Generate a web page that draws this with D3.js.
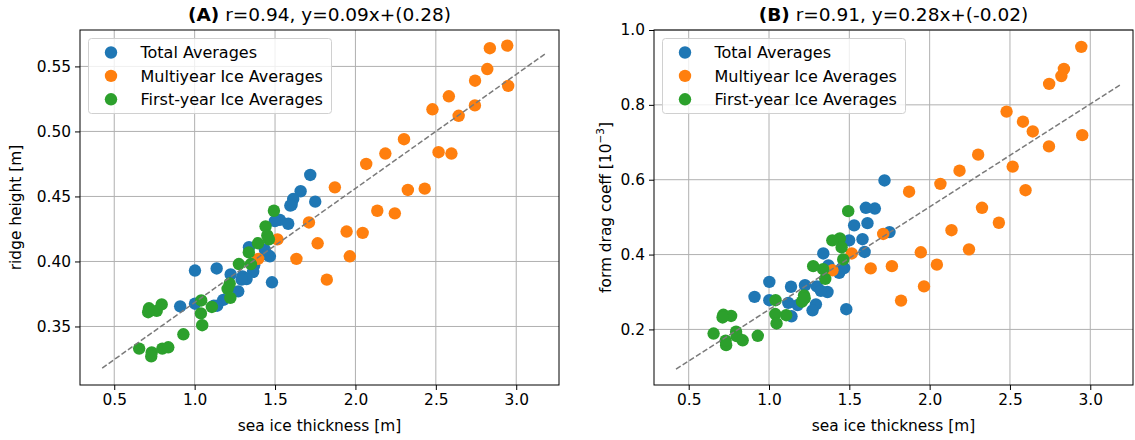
<!DOCTYPE html>
<html>
<head>
<meta charset="utf-8">
<script src="https://cdn.jsdelivr.net/npm/d3@7"></script>
<style>
  body { margin: 0; background: #fff; }
  text { font-family: "DejaVu Sans", sans-serif; fill: #000; }
</style>
</head>
<body>
<svg id="chart" width="1135" height="440"></svg>
<script>
// --- data ---
const seriesNames = ['Total Averages', 'Multiyear Ice Averages', 'First-year Ice Averages'];
const seriesColors = ['#1f77b4', '#ff7f0e', '#2ca02c'];

// total averages
const thickTotal = [1.719, 1.659, 1.613, 1.603, 1.595, 1.750, 1.530, 1.499, 1.582, 1.338,
                    1.437, 1.468, 1.452, 1.370, 1.002, 1.137, 1.224, 1.298, 1.364, 1.323,
                    1.292, 1.481, 1.271, 1.178, 1.140, 1.120, 0.910, 1.002];
const ridgeTotal = [0.4665, 0.454, 0.448, 0.4436, 0.443, 0.446, 0.432, 0.431, 0.429, 0.411,
                    0.409, 0.404, 0.405, 0.397, 0.393, 0.3946, 0.390, 0.3885, 0.392, 0.3865,
                    0.386, 0.384, 0.377, 0.3705, 0.366, 0.366, 0.3655, 0.3675];
const dragTotal = [0.598, 0.523, 0.484, 0.525, 0.407, 0.460, 0.478, 0.438, 0.441, 0.403,
                   0.351, 0.364, 0.363, 0.371, 0.327, 0.314, 0.318, 0.315, 0.300, 0.303,
                   0.267, 0.254, 0.251, 0.265, 0.235, 0.271, 0.287, 0.278];

// multiyear ice
const thickMY = [1.395, 1.515, 1.633, 1.711, 1.765, 1.822, 1.872, 1.945, 1.965, 2.045,
                 2.067, 2.136, 2.186, 2.245, 2.302, 2.326, 2.431, 2.479, 2.517, 2.581,
                 2.597, 2.642, 2.744, 2.743, 2.820, 2.836, 2.944, 2.950];
const ridgeMY = [0.402, 0.417, 0.402, 0.430, 0.414, 0.386, 0.457, 0.423, 0.404, 0.422,
                 0.475, 0.439, 0.483, 0.437, 0.494, 0.455, 0.456, 0.517, 0.484, 0.527,
                 0.483, 0.512, 0.539, 0.520, 0.548, 0.564, 0.566, 0.535];
const dragMY = [0.358, 0.403, 0.363, 0.455, 0.369, 0.277, 0.568, 0.406, 0.315, 0.373,
                0.589, 0.465, 0.624, 0.414, 0.667, 0.525, 0.485, 0.782, 0.635, 0.755,
                0.572, 0.729, 0.856, 0.689, 0.877, 0.896, 0.955, 0.719];

// first-year ice
const thickFY = [1.493, 1.441, 1.452, 1.462, 1.394, 1.337, 1.275, 1.350, 1.218, 1.205,
                 1.222, 1.107, 1.041, 1.039, 1.047, 0.930, 0.716, 0.764, 0.795, 0.711,
                 0.655, 0.733, 0.730, 0.799, 0.836];
const ridgeFY = [0.439, 0.427, 0.420, 0.417, 0.414, 0.407, 0.398, 0.398, 0.383, 0.379,
                 0.372, 0.365, 0.370, 0.360, 0.351, 0.344, 0.364, 0.362, 0.367, 0.361,
                 0.333, 0.330, 0.327, 0.333, 0.334];
const dragFY = [0.516, 0.443, 0.419, 0.387, 0.438, 0.361, 0.369, 0.335, 0.291, 0.274,
                0.283, 0.238, 0.278, 0.241, 0.216, 0.183, 0.239, 0.236, 0.194, 0.232,
                0.189, 0.158, 0.170, 0.182, 0.171];

// regression lines (end points)
const fitXA = [0.425, 3.178], fitYA = [0.318, 0.5595];
const fitXB = [0.421, 3.185], fitYB = [0.094, 0.853];

// tick values
const xTicks = [0.5, 1.0, 1.5, 2.0, 2.5, 3.0];
const yTicksA = [0.35, 0.40, 0.45, 0.50, 0.55];
const yTicksB = [0.2, 0.4, 0.6, 0.8, 1.0];

const FONT = 15.4;
const svg = d3.select('#chart');
const zip = (xs, ys) => xs.map((x, i) => [x, ys[i]]);

function drawPanel(cfg) {
    const g = svg.append('g');
    const x = d3.scaleLinear().domain(cfg.xDomain).range([cfg.left, cfg.right]);
    const y = d3.scaleLinear().domain(cfg.yDomain).range([cfg.bottom, cfg.top]);

    // grid
    g.append('g').selectAll('line').data(cfg.xTicks).join('line')
        .attr('x1', d => x(d)).attr('x2', d => x(d))
        .attr('y1', cfg.top).attr('y2', cfg.bottom)
        .attr('stroke', '#b0b0b0').attr('stroke-width', 1);
    g.append('g').selectAll('line').data(cfg.yTicks).join('line')
        .attr('x1', cfg.left).attr('x2', cfg.right)
        .attr('y1', d => y(d)).attr('y2', d => y(d))
        .attr('stroke', '#b0b0b0').attr('stroke-width', 1);

    // points: total, multiyear, first-year (green drawn last)
    cfg.series.forEach((pts, i) => {
        g.append('g').selectAll('circle').data(pts).join('circle')
            .attr('cx', d => x(d[0])).attr('cy', d => y(d[1]))
            .attr('r', 6.2).attr('fill', seriesColors[i]);
    });

    // regression line
    g.append('path').datum(zip(cfg.fitX, cfg.fitY))
        .attr('d', d3.line().x(d => x(d[0])).y(d => y(d[1])))
        .attr('fill', 'none').attr('stroke', '#7a7a7a')
        .attr('stroke-width', 1.5).attr('stroke-dasharray', '5.5,2.4');

    // axes
    const xAxis = d3.axisBottom(x).tickValues(cfg.xTicks).tickFormat(d3.format('.1f'))
        .tickSize(5).tickPadding(4);
    const yAxis = d3.axisLeft(y).tickValues(cfg.yTicks).tickFormat(d3.format(cfg.yFormat))
        .tickSize(5).tickPadding(4);
    const gx = g.append('g').attr('transform', `translate(0,${cfg.bottom})`).call(xAxis);
    const gy = g.append('g').attr('transform', `translate(${cfg.left},0)`).call(yAxis);
    [gx, gy].forEach(a => {
        a.select('.domain').remove();
        a.selectAll('text').attr('font-size', FONT).attr('fill', '#000')
            .attr('font-family', '"DejaVu Sans", sans-serif');
        a.selectAll('line').attr('stroke', '#000');
    });

    // frame
    g.append('rect').attr('x', cfg.left).attr('y', cfg.top)
        .attr('width', cfg.right - cfg.left).attr('height', cfg.bottom - cfg.top)
        .attr('fill', 'none').attr('stroke', '#000').attr('stroke-width', 1);

    // labels
    g.append('text').attr('x', (cfg.left + cfg.right) / 2).attr('y', 431)
        .attr('text-anchor', 'middle').attr('font-size', FONT)
        .text('sea ice thickness [m]');
    const yl = g.append('text')
        .attr('transform', `translate(${cfg.yLabelX},${(cfg.top + cfg.bottom) / 2}) rotate(-90)`)
        .attr('text-anchor', 'middle').attr('font-size', FONT);
    cfg.yLabel(yl);

    const title = g.append('text').attr('x', (cfg.left + cfg.right) / 2).attr('y', 21)
        .attr('text-anchor', 'middle').attr('font-size', 18.5);
    title.append('tspan').attr('font-weight', 'bold').text(cfg.tag);
    title.append('tspan').text(' ' + cfg.title);

    // legend
    const lg = g.append('g');
    lg.append('rect').attr('x', cfg.left + 8.5).attr('y', 38.5)
        .attr('width', cfg.legendW).attr('height', 75).attr('rx', 3)
        .attr('fill', '#fff').attr('fill-opacity', 0.8)
        .attr('stroke', '#d0d0d0').attr('stroke-width', 1);
    seriesNames.forEach((name, i) => {
        const yy = 52.5 + i * 23.4;
        lg.append('circle').attr('cx', cfg.left + 31).attr('cy', yy)
            .attr('r', 6.2).attr('fill', seriesColors[i]);
        lg.append('text').attr('x', cfg.left + 60.5).attr('y', yy)
            .attr('dy', '0.35em').attr('font-size', 16).text(name);
    });
}

drawPanel({
    left: 80, right: 559, top: 30, bottom: 385,
    xDomain: [0.287, 3.266], yDomain: [0.305, 0.578],
    xTicks: xTicks, yTicks: yTicksA, yFormat: '.2f',
    series: [zip(thickTotal, ridgeTotal), zip(thickMY, ridgeMY), zip(thickFY, ridgeFY)],
    fitX: fitXA, fitY: fitYA,
    tag: '(A)', title: 'r=0.94, y=0.09x+(0.28)',
    legendW: 243,
    yLabelX: 21,
    yLabel: t => t.text('ridge height [m]')
});

drawPanel({
    left: 654, right: 1133, top: 30, bottom: 385,
    xDomain: [0.284, 3.266], yDomain: [0.0515, 1.0],
    xTicks: xTicks, yTicks: yTicksB, yFormat: '.1f',
    series: [zip(thickTotal, dragTotal), zip(thickMY, dragMY), zip(thickFY, dragFY)],
    fitX: fitXB, fitY: fitYB,
    tag: '(B)', title: 'r=0.91, y=0.28x+(-0.02)',
    legendW: 243,
    yLabelX: 611,
    yLabel: t => {
        t.append('tspan').text('form drag coeff [10');
        t.append('tspan').attr('font-size', 10.5).attr('dy', -7).text('\u22123');
        t.append('tspan').attr('dy', 7).text(']');
    }
});
</script>
</body>
</html>
